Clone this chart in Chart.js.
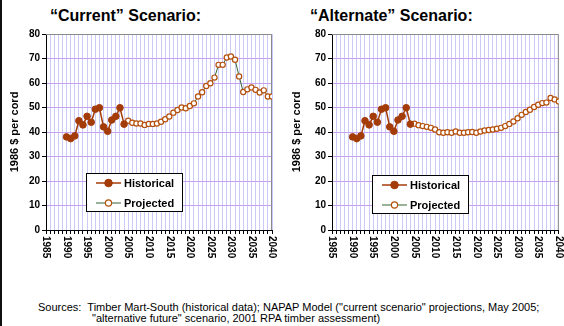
<!DOCTYPE html>
<html>
<head>
<meta charset="utf-8">
<script src="https://cdn.jsdelivr.net/npm/chart.js@4.4.1/dist/chart.umd.min.js"></script>
<style>
  html, body { margin: 0; padding: 0; background: #fff; }
  body { width: 564px; height: 326px; position: relative; overflow: hidden; font-family: Arial, "Liberation Sans", sans-serif; color: #000; }
  .edge { position: absolute; left: 0; top: 0; width: 2px; height: 326px; background: #111; }
  .box { position: absolute; top: 0; width: 282px; height: 270px; }
  .ttl { position: absolute; top: 7px; font-weight: bold; font-size: 16px; white-space: nowrap; }
  .src { position: absolute; font-size: 11px; line-height: 11px; white-space: nowrap; }
</style>
</head>
<body>
<div class="edge"></div>
<div class="ttl" style="left:50px">“Current” Scenario:</div>
<div class="ttl" style="left:310px">“Alternate” Scenario:</div>
<div class="box" style="left:0"><canvas id="cur"></canvas></div>
<div class="box" style="left:282px"><canvas id="alt"></canvas></div>
<div class="src" style="left:38px;top:302px">Sources:&nbsp; Timber Mart-South (historical data); NAPAP Model ("current scenario" projections, May 2005;</div>
<div class="src" style="left:92px;top:313px">"alternative future" scenario, 2001 RPA timber assessment)</div>

<script>
// stumpage price, 1986 $ per cord
const histYears = [1990, 1991, 1992, 1993, 1994, 1995, 1996, 1997, 1998, 1999, 2000, 2001, 2002, 2003, 2004];
const histPrice = [38, 37.3, 38.4, 44.6, 42.9, 46.4, 44, 49.3, 49.9, 42.1, 40.3, 44.9, 46.4, 49.9, 43.2];

const projYears = [];
for (let y = 2005; y <= 2040; y++) projYears.push(y);

const currentProj = [44.6, 43.8, 43.5, 43.5, 42.9, 43.3, 43.3, 43.5, 44.2, 45.2, 46.3, 47.9,
  49.0, 50.0, 49.7, 50.6, 51.7, 54.5, 56.2, 58.8, 59.9, 62.2, 67.4, 67.4,
  70.4, 70.8, 69.5, 62.7, 56.3, 57.4, 58.2, 57.2, 56.1, 57.0, 54.5, 54.5];

const alternateProj = [43.4, 42.8, 42.4, 42.1, 41.7, 41.0, 39.9, 39.7, 39.9, 39.7, 40.2, 39.7,
  39.7, 39.9, 40.0, 39.7, 40.2, 40.6, 40.8, 41.0, 41.3, 41.7, 42.4, 43.3,
  44.3, 45.6, 47.0, 48.2, 49.1, 50.2, 51.1, 51.8, 52.0, 53.9, 53.3, 52.5];

const yTicks = [0, 10, 20, 30, 40, 50, 60, 70, 80];
const xLabelYears = [1985, 1990, 1995, 2000, 2005, 2010, 2015, 2020, 2025, 2030, 2035, 2040];

const FONT = 'Arial, "Liberation Sans", sans-serif';
const HIST_COLOR = '#a33c08';
const PROJ_LINE = '#336633';
const PROJ_MARK = '#b4500c';

const pts = (xs, ys) => xs.map((x, i) => ({ x, y: ys[i] }));

// gray frame on the top and right of the plot
const frame = {
  id: 'frame',
  beforeDatasetsDraw(chart) {
    const { ctx, chartArea: a } = chart;
    ctx.save();
    ctx.strokeStyle = '#8a8a8a';
    ctx.lineWidth = 1;
    ctx.beginPath();
    ctx.moveTo(a.left, a.top + 0.5);
    ctx.lineTo(a.right - 0.5, a.top + 0.5);
    ctx.lineTo(a.right - 0.5, a.bottom);
    ctx.stroke();
    ctx.restore();
  }
};

// year labels read top-to-bottom under the axis
const yearLabels = {
  id: 'yearLabels',
  afterDraw(chart) {
    const { ctx, chartArea: a, scales: { x } } = chart;
    ctx.save();
    ctx.font = 'bold 10px ' + FONT;
    ctx.fillStyle = '#000';
    ctx.textAlign = 'left';
    ctx.textBaseline = 'middle';
    xLabelYears.forEach(yr => {
      ctx.save();
      ctx.translate(x.getPixelForValue(yr), a.bottom + 6);
      ctx.rotate(Math.PI / 2);
      ctx.fillText(String(yr), 0, 0);
      ctx.restore();
    });
    ctx.restore();
  }
};

// boxed legend inside the plot
const boxLegend = {
  id: 'boxLegend',
  afterDraw(chart, args, opts) {
    const { ctx, chartArea: a } = chart;
    const x0 = a.left + opts.dx, y0 = opts.y, w = 97, h = 39;
    ctx.save();
    ctx.fillStyle = '#fff';
    ctx.fillRect(x0, y0, w, h);
    ctx.strokeStyle = '#000';
    ctx.lineWidth = 1;
    ctx.strokeRect(x0 + 0.5, y0 + 0.5, w - 1, h - 1);
    ctx.font = 'bold 11px ' + FONT;
    ctx.textBaseline = 'middle';
    ctx.textAlign = 'left';
    chart.data.datasets.forEach((ds, i) => {
      const cy = y0 + 10 + i * 20;
      ctx.strokeStyle = ds.borderColor;
      ctx.lineWidth = ds.borderWidth;
      ctx.beginPath();
      ctx.moveTo(x0 + 10, cy);
      ctx.lineTo(x0 + 35, cy);
      ctx.stroke();
      ctx.beginPath();
      ctx.arc(x0 + 22.5, cy, ds.pointRadius + 0.5, 0, Math.PI * 2);
      ctx.fillStyle = ds.pointBackgroundColor;
      ctx.fill();
      ctx.strokeStyle = ds.pointBorderColor;
      ctx.lineWidth = ds.pointBorderWidth;
      ctx.stroke();
      ctx.fillStyle = '#000';
      ctx.fillText(ds.label, x0 + 38, cy + 0.5);
    });
    ctx.restore();
  }
};

function makeChart(id, proj, padLeft, padRight, legendTop) {
  return new Chart(document.getElementById(id), {
    type: 'line',
    data: {
      datasets: [
        {
          label: 'Historical',
          data: pts(histYears, histPrice),
          borderColor: HIST_COLOR,
          borderWidth: 1.5,
          pointRadius: 3.3,
          pointBackgroundColor: HIST_COLOR,
          pointBorderColor: HIST_COLOR,
          pointBorderWidth: 1
        },
        {
          label: 'Projected',
          data: pts(projYears, proj),
          borderColor: PROJ_LINE,
          borderWidth: 1,
          pointRadius: 2.6,
          pointBackgroundColor: '#fff',
          pointBorderColor: PROJ_MARK,
          pointBorderWidth: 1.2
        }
      ]
    },
    options: {
      responsive: true,
      maintainAspectRatio: false,
      animation: false,
      events: [],
      layout: { padding: { top: 34, right: padRight, left: 0, bottom: 0 } },
      plugins: {
        legend: { display: false },
        tooltip: { enabled: false },
        boxLegend: { dx: 40, y: legendTop }
      },
      scales: {
        x: {
          type: 'linear',
          min: 1985, max: 2040,
          ticks: { display: false, stepSize: 1, autoSkip: false },
          grid: { color: '#cccaf6', lineWidth: 1, tickLength: 4, tickColor: '#000' },
          border: { color: '#000', width: 1 },
          afterFit: s => { s.height = 40; }
        },
        y: {
          min: 0, max: 80,
          afterBuildTicks: s => { s.ticks = yTicks.map(v => ({ value: v })); },
          ticks: { color: '#000', font: { family: FONT, size: 10, weight: 'bold' }, padding: 2 },
          grid: { color: '#c6a2f0', lineWidth: 1, tickLength: 4, tickColor: '#000' },
          border: { color: '#000', width: 1 },
          title: {
            display: true,
            text: '1986 $ per cord',
            color: '#000',
            font: { family: FONT, size: 11, weight: 'bold' },
            padding: { top: padLeft, bottom: 0 }
          },
          afterFit: s => { s.width = id === 'cur' ? 46 : 50; }
        }
      }
    },
    plugins: [frame, yearLabels, boxLegend]
  });
}

makeChart('cur', currentProj, 8, 10, 173);
makeChart('alt', alternateProj, 8, 5, 175);
</script>
</body>
</html>
